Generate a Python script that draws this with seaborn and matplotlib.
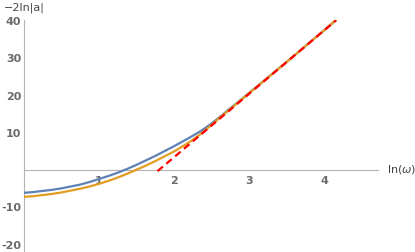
import matplotlib
matplotlib.use("Agg")
import matplotlib.pyplot as plt
import seaborn as sns
import pandas as pd
from matplotlib.ticker import MultipleLocator

# data
x_vals = [0.0, 0.125, 0.25, 0.375, 0.5, 0.625, 0.75, 0.875, 1.0, 1.125, 1.25, 1.375,
          1.5, 1.625, 1.75, 1.875, 2.0, 2.125, 2.25, 2.375, 2.5, 2.625, 2.75, 2.875,
          3.0, 3.5, 4.0, 4.16]
blue_y = [-6.1, -5.9, -5.6, -5.3, -4.9, -4.4, -3.9, -3.2, -2.4, -1.6, -0.7, 0.3,
          1.4, 2.6, 3.8, 5.1, 6.4, 7.8, 9.2, 10.7, 12.5, 14.5, 16.6, 18.6,
          20.7, 29.0, 37.5, 40.3]
orange_y = [-7.2, -7.0, -6.7, -6.4, -6.0, -5.5, -5.0, -4.4, -3.7, -2.9, -2.0, -1.0,
            0.1, 1.2, 2.4, 3.7, 5.0, 6.5, 8.1, 10.0, 12.1, 14.3, 16.4, 18.5,
            20.6, 29.0, 37.5, 40.3]
asym_x = [1.78, 4.16]
asym_y = [-0.3, 40.2]
x_ticks = [1, 2, 3, 4]
y_ticks = [-20, -10, 10, 20, 30, 40]

sns.set_theme(style="white")
plt.rcParams['font.family'] = ['DejaVu Sans']

fig = plt.figure(figsize=(4.15, 2.52), dpi=100)
ax = fig.add_axes([24/415, 0.0, 354/415, 232/252])

df = pd.DataFrame({"x": x_vals, "blue": blue_y, "orange": orange_y})
sns.lineplot(data=df, x="x", y="blue", ax=ax, color="#5E81B5", lw=1.6, zorder=3)
sns.lineplot(data=df, x="x", y="orange", ax=ax, color="#E19C24", lw=1.6, zorder=4)
dfa = pd.DataFrame({"x": asym_x, "y": asym_y})
sns.lineplot(data=dfa, x="x", y="y", ax=ax, color="#FF0000", lw=1.6, zorder=5,
             dashes=False, linestyle=(0, (3.2, 2.0)))

ax.set_xlim(0, 4.72)
ax.set_ylim(-22, 40.3)
for s in ["top", "right"]:
    ax.spines[s].set_visible(False)
for s in ["left", "bottom"]:
    ax.spines[s].set_position(("data", 0))
    ax.spines[s].set_color("#b3b3b3")
    ax.spines[s].set_linewidth(0.8)

ax.set_xticks(x_ticks)
ax.set_yticks(y_ticks)
ax.xaxis.set_minor_locator(MultipleLocator(0.2))
ax.yaxis.set_minor_locator(MultipleLocator(2))
ax.tick_params(axis="both", which="major", direction="in", length=4, width=0.8,
               color="#b3b3b3", labelsize=8, labelcolor="#6a6a6a")
ax.tick_params(axis="x", which="major", pad=4)
ax.tick_params(axis="y", which="major", pad=2)
ax.tick_params(axis="both", which="minor", direction="in", length=2.2, width=0.6,
               color="#b3b3b3")
ax.set_yticklabels([("-" + str(-v)) if v < 0 else str(v) for v in y_ticks])
for lab in ax.get_xticklabels() + ax.get_yticklabels():
    lab.set_fontweight("bold")
ax.set_xlabel("")
ax.set_ylabel("")
ax.set_facecolor("none")

fig.text(4/415, 1 - 8/252, "\u22122ln|a|", fontsize=8, color="#444444",
         va="center", ha="left")
fig.text(387/415, 1 - 170/252, r"ln($\omega$)", fontsize=8, color="#444444",
         va="center", ha="left")

fig.savefig("out.png", dpi=100)
